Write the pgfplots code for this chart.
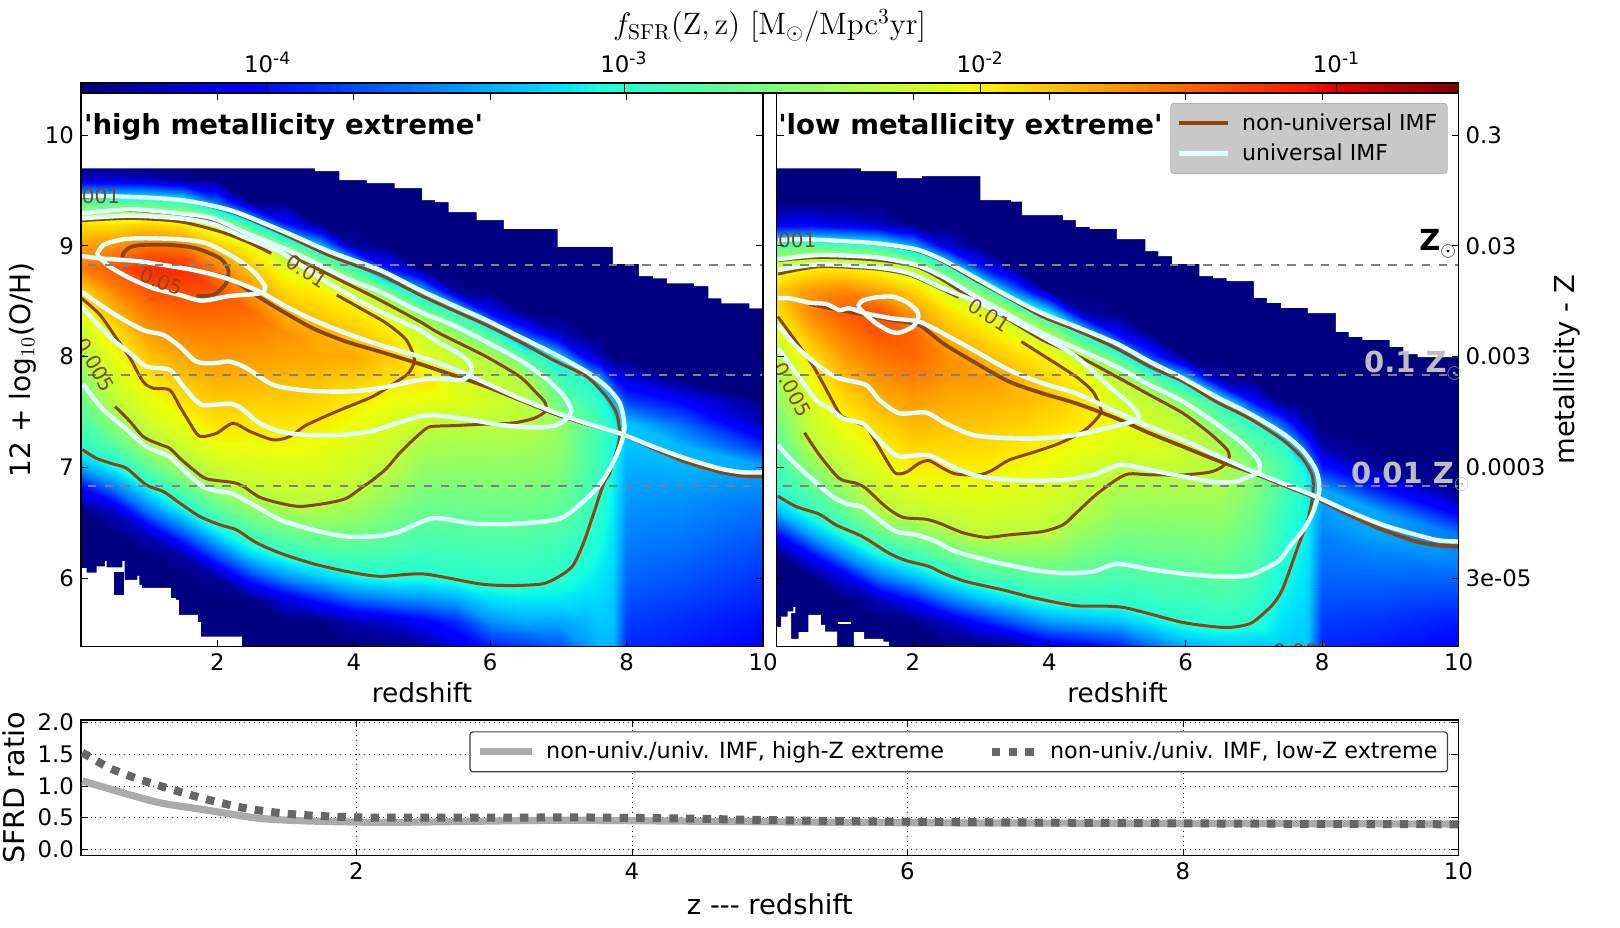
\documentclass[border=0pt]{standalone}
\usepackage[no-math]{fontspec}
\setmainfont{DejaVu Sans}[Ligatures=TeXOff]
\usepackage{pgfplots}
\pgfplotsset{compat=1.18}
\definecolor{cbrown}{HTML}{8B4513}
\definecolor{cwhite}{HTML}{E0FFFF}
\definecolor{cnavy}{HTML}{00007F}
\definecolor{lgray}{HTML}{C8C8C8}
\definecolor{zgray}{HTML}{BEBEBE}
\newcommand{\fs}[1]{\fontsize{#1}{#1}\selectfont}
\newcommand{\dec}[1]{10\textsuperscript{\fs{8.6}#1}}
\tikzset{clab/.style={cbrown,font=\fs{10},inner sep=0pt}}
\pgfplotsset{
  colormap={mpljet}{rgb255(0pt)=(0,0,127) rgb255(110pt)=(0,0,255) rgb255(125pt)=(0,0,255) rgb255(340pt)=(0,219,255) rgb255(350pt)=(0,229,247) rgb255(375pt)=(21,255,226) rgb255(640pt)=(238,255,8) rgb255(650pt)=(243,245,0) rgb255(660pt)=(255,236,0) rgb255(890pt)=(255,19,0) rgb255(910pt)=(232,0,0) rgb255(1000pt)=(127,0,0)},
  panel/.style={scale only axis,width=341pt,height=276.85pt,xmin=0,xmax=10,ymin=5.38,ymax=10.38,
    axis on top,tick align=inside,major tick length=3.5pt,axis line style={line width=.7pt},tick style={black,line width=.4pt},
    xtick={2,4,6,8,10},xticklabels={2,4,6,8,10},ytick={6,7,8,9,10},
    tick label style={font=\fs{11.4}},label style={font=\fs{13.2}},
    colormap name=mpljet,point meta min=-4.524,point meta max=-0.658,
    xlabel=redshift,x label style={at={(axis description cs:0.5,-0.083)},anchor=center}},
  heat/.style={surf,shader=interp,mesh/rows=23,mesh/cols=21,mesh/ordering=y varies,point meta=explicit,forget plot},
  mask/.style={fill=white,draw=none,forget plot},
  br/.style={cbrown,line width=1.5pt,smooth,tension=.45,forget plot},
  brt/.style={cbrown,line width=1.9pt,smooth,tension=.45,forget plot},
  wh/.style={cwhite,line width=2.2pt,smooth,tension=.45,forget plot},
  dsh/.style={gray,line width=1pt,dash pattern=on 4.2pt off 4.2pt,forget plot},
  legA/.style={legend image code/.code={\draw[##1] (0pt,0pt) -- (24.5pt,0pt);\path (28.5pt,0pt);}},
  legB/.style={legend image code/.code={\draw[##1] (0pt,0pt) -- (26pt,0pt);\path (29.5pt,0pt);}},
  legC/.style={legend image code/.code={\draw[##1] (0pt,0pt) -- (21.5pt,0pt);\path (25pt,0pt);}},
}
\begin{document}
\begin{tikzpicture}
\useasboundingbox (0,0) rectangle (810pt,463.5pt);
% left panel
\begin{axis}[panel,at={(40.5pt,140.15pt)},anchor=south west,
  yticklabels={6,7,8,9,10},
  ylabel={12 + log$_{10}$(O/H)},y label style={at={(axis description cs:-0.086,0.5)},anchor=center,font=\fs{14}},
  colorbar horizontal,
  colorbar style={at={(0,1)},anchor=south west,scale only axis,width=688.7pt,height=5pt,
    xtick={-4,-3,-2,-1},xticklabels={\dec{-4},\dec{-3},\dec{-2},\dec{-1}},
    xticklabel pos=upper,xlabel near ticks,xlabel={\scalebox{1.075}{\Large$f_{\mathrm{SFR}}(\mathrm{Z,z})\ [\mathrm{M_{\odot}/Mpc^{3}yr}]$}},
    tick align=inside,xtick style={black,line width=.4pt},major tick length=5pt,
    axis line style={line width=.7pt},
    tick label style={font=\fs{11.4}},xticklabel style={yshift=1.5pt},
    x label style={at={(axis description cs:0.5,6.7)},anchor=center}},
  ]
\addplot[heat] table[meta=c]{
x y c
0 5.38 -4.52
0 5.6 -4.52
0 5.8 -4.52
0 6 -4.52
0 6.2 -4.52
0 6.4 -4.52
0 6.6 -4.52
0 6.8 -4.08
0 7 -3.4
0 7.2 -2.97
0 7.4 -2.82
0 7.6 -2.67
0 7.8 -2.52
0 8 -2.37
0 8.2 -2.23
0 8.4 -2.09
0 8.6 -1.88
0 8.8 -1.53
0 9 -1.67
0 9.2 -1.93
0 9.4 -2.8
0 9.6 -4.27
0 9.72 -4.52
.5 5.38 -4.52
.5 5.6 -4.52
.5 5.8 -4.52
.5 6 -4.52
.5 6.2 -4.52
.5 6.4 -4.52
.5 6.6 -4.3
.5 6.8 -3.6
.5 7 -3.07
.5 7.2 -2.77
.5 7.4 -2.5
.5 7.6 -2.27
.5 7.8 -2.17
.5 8 -2.07
.5 8.2 -1.95
.5 8.4 -1.75
.5 8.6 -1.55
.5 8.8 -1.35
.5 9 -1.59
.5 9.2 -1.93
.5 9.4 -2.8
.5 9.6 -4.27
.5 9.72 -4.52
1 5.38 -4.52
1 5.6 -4.52
1 5.8 -4.52
1 6 -4.52
1 6.2 -4.52
1 6.4 -4.3
1 6.6 -3.6
1 6.8 -3.1
1 7 -2.72
1 7.2 -2.38
1 7.4 -2.19
1 7.6 -2.09
1 7.8 -1.96
1 8 -1.8
1 8.2 -1.64
1 8.4 -1.49
1 8.6 -1.33
1 8.8 -1.17
1 9 -1.46
1 9.2 -1.89
1 9.4 -2.81
1 9.6 -4.33
1 9.72 -4.52
1.5 5.38 -4.52
1.5 5.6 -4.52
1.5 5.8 -4.52
1.5 6 -4.52
1.5 6.2 -4.4
1.5 6.4 -3.72
1.5 6.6 -3.15
1.5 6.8 -2.75
1.5 7 -2.39
1.5 7.2 -2.2
1.5 7.4 -2.07
1.5 7.6 -1.94
1.5 7.8 -1.81
1.5 8 -1.69
1.5 8.2 -1.56
1.5 8.4 -1.43
1.5 8.6 -1.31
1.5 8.8 -1.18
1.5 9 -1.5
1.5 9.2 -1.98
1.5 9.4 -2.95
1.5 9.6 -4.46
1.5 9.72 -4.52
2 5.38 -4.52
2 5.6 -4.52
2 5.8 -4.52
2 6 -4.43
2 6.2 -3.76
2 6.4 -3.18
2 6.6 -2.78
2 6.8 -2.45
2 7 -2.21
2 7.2 -2.06
2 7.4 -1.93
2 7.6 -1.83
2 7.8 -1.73
2 8 -1.63
2 8.2 -1.53
2 8.4 -1.43
2 8.6 -1.33
2 8.8 -1.52
2 9 -1.81
2 9.2 -2.24
2 9.4 -3.63
2 9.6 -4.52
2 9.72 -4.52
2.5 5.38 -4.52
2.5 5.6 -4.52
2.5 5.8 -4.52
2.5 6 -3.87
2.5 6.2 -3.25
2.5 6.4 -2.85
2.5 6.6 -2.55
2.5 6.8 -2.28
2.5 7 -2.17
2.5 7.2 -2.06
2.5 7.4 -1.95
2.5 7.6 -1.85
2.5 7.8 -1.75
2.5 8 -1.65
2.5 8.2 -1.55
2.5 8.4 -1.45
2.5 8.6 -1.64
2.5 8.8 -1.82
2.5 9 -2.05
2.5 9.2 -3
2.5 9.4 -4.52
2.5 9.6 -4.52
2.5 9.72 -4.52
3 5.38 -4.52
3 5.6 -4.52
3 5.8 -4.2
3 6 -3.5
3 6.2 -3
3 6.4 -2.7
3 6.6 -2.4
3 6.8 -2.23
3 7 -2.13
3 7.2 -2.03
3 7.4 -1.94
3 7.6 -1.85
3 7.8 -1.77
3 8 -1.68
3 8.2 -1.6
3 8.4 -1.75
3 8.6 -1.91
3 8.8 -2.11
3 9 -2.6
3 9.2 -3.96
3 9.4 -4.52
3 9.6 -4.52
3 9.72 -4.52
3.5 5.38 -4.52
3.5 5.6 -4.52
3.5 5.8 -3.94
3.5 6 -3.3
3.5 6.2 -2.9
3.5 6.4 -2.64
3.5 6.6 -2.39
3.5 6.8 -2.24
3.5 7 -2.15
3.5 7.2 -2.07
3.5 7.4 -1.98
3.5 7.6 -1.88
3.5 7.8 -1.79
3.5 8 -1.7
3.5 8.2 -1.72
3.5 8.4 -1.86
3.5 8.6 -2
3.5 8.8 -2.34
3.5 9 -3.27
3.5 9.2 -4.52
3.5 9.4 -4.52
3.5 9.6 -4.52
3.5 9.72 -4.52
4 5.38 -4.52
4 5.6 -4.36
4 5.8 -3.68
4 6 -3.12
4 6.2 -2.85
4 6.4 -2.65
4 6.6 -2.45
4 6.8 -2.28
4 7 -2.21
4 7.2 -2.13
4 7.4 -2.06
4 7.6 -1.98
4 7.8 -1.84
4 8 -1.7
4 8.2 -1.83
4 8.4 -1.96
4 8.6 -2.22
4 8.8 -2.92
4 9 -4.4
4 9.2 -4.52
4 9.4 -4.52
4 9.6 -4.52
4 9.72 -4.52
4.5 5.38 -4.52
4.5 5.6 -4.27
4.5 5.8 -3.57
4.5 6 -3.05
4.5 6.2 -2.87
4.5 6.4 -2.72
4.5 6.6 -2.58
4.5 6.8 -2.43
4.5 7 -2.29
4.5 7.2 -2.21
4.5 7.4 -2.14
4.5 7.6 -2.06
4.5 7.8 -1.93
4.5 8 -1.84
4.5 8.2 -1.95
4.5 8.4 -2.16
4.5 8.6 -2.68
4.5 8.8 -3.96
4.5 9 -4.52
4.5 9.2 -4.52
4.5 9.4 -4.52
4.5 9.6 -4.52
4.5 9.72 -4.52
5 5.38 -4.45
5 5.6 -4.1
5 5.8 -3.5
5 6 -3.05
5 6.2 -2.91
5 6.4 -2.8
5 6.6 -2.69
5 6.8 -2.58
5 7 -2.47
5 7.2 -2.36
5 7.4 -2.23
5 7.6 -2.09
5 7.8 -1.95
5 8 -2.09
5 8.2 -2.22
5 8.4 -2.55
5 8.6 -3.36
5 8.8 -4.52
5 9 -4.52
5 9.2 -4.52
5 9.4 -4.52
5 9.6 -4.52
5 9.72 -4.52
5.5 5.38 -4.2
5.5 5.6 -3.9
5.5 5.8 -3.4
5.5 6 -2.99
5.5 6.2 -2.89
5.5 6.4 -2.79
5.5 6.6 -2.69
5.5 6.8 -2.59
5.5 7 -2.49
5.5 7.2 -2.39
5.5 7.4 -2.28
5.5 7.6 -2.11
5.5 7.8 -2.14
5.5 8 -2.24
5.5 8.2 -2.47
5.5 8.4 -2.98
5.5 8.6 -4.46
5.5 8.8 -4.52
5.5 9 -4.52
5.5 9.2 -4.52
5.5 9.4 -4.52
5.5 9.6 -4.52
5.5 9.72 -4.52
6 5.38 -3.95
6 5.6 -3.5
6 5.8 -3.2
6 6 -2.97
6 6.2 -2.87
6 6.4 -2.78
6 6.6 -2.68
6 6.8 -2.58
6 7 -2.49
6 7.2 -2.39
6 7.4 -2.29
6 7.6 -2.19
6 7.8 -2.25
6 8 -2.35
6 8.2 -2.83
6 8.4 -4.09
6 8.6 -4.52
6 8.8 -4.52
6 9 -4.52
6 9.2 -4.52
6 9.4 -4.52
6 9.6 -4.52
6 9.72 -4.52
6.5 5.38 -3.85
6.5 5.6 -3.4
6.5 5.8 -3.15
6.5 6 -2.97
6.5 6.2 -2.87
6.5 6.4 -2.78
6.5 6.6 -2.68
6.5 6.8 -2.59
6.5 7 -2.49
6.5 7.2 -2.4
6.5 7.4 -2.3
6.5 7.6 -2.27
6.5 7.8 -2.34
6.5 8 -2.75
6.5 8.2 -3.72
6.5 8.4 -4.52
6.5 8.6 -4.52
6.5 8.8 -4.52
6.5 9 -4.52
6.5 9.2 -4.52
6.5 9.4 -4.52
6.5 9.6 -4.52
6.5 9.72 -4.52
7 5.38 -3.75
7 5.6 -3.41
7 5.8 -3.17
7 6 -3
7 6.2 -2.91
7 6.4 -2.82
7 6.6 -2.73
7 6.8 -2.64
7 7 -2.56
7 7.2 -2.47
7 7.4 -2.45
7 7.6 -2.65
7 7.8 -2.85
7 8 -3.2
7 8.2 -4.3
7 8.4 -4.52
7 8.6 -4.52
7 8.8 -4.52
7 9 -4.52
7 9.2 -4.52
7 9.4 -4.52
7 9.6 -4.52
7 9.72 -4.52
7.4 5.38 -3.48
7.4 5.6 -3.34
7.4 5.8 -3.22
7.4 6 -3.1
7.4 6.2 -3.02
7.4 6.4 -2.94
7.4 6.6 -2.88
7.4 6.8 -2.84
7.4 7 -2.8
7.4 7.2 -2.78
7.4 7.4 -2.75
7.4 7.6 -2.88
7.4 7.8 -3
7.4 8 -4.1
7.4 8.2 -4.52
7.4 8.4 -4.52
7.4 8.6 -4.52
7.4 8.8 -4.52
7.4 9 -4.52
7.4 9.2 -4.52
7.4 9.4 -4.52
7.4 9.6 -4.52
7.4 9.72 -4.52
7.6 5.38 -3.35
7.6 5.6 -3.28
7.6 5.8 -3.22
7.6 6 -3.16
7.6 6.2 -3.1
7.6 6.4 -3.04
7.6 6.6 -2.99
7.6 6.8 -2.94
7.6 7 -2.9
7.6 7.2 -2.88
7.6 7.4 -2.87
7.6 7.6 -2.95
7.6 7.8 -3.35
7.6 8 -4.3
7.6 8.2 -4.52
7.6 8.4 -4.52
7.6 8.6 -4.52
7.6 8.8 -4.52
7.6 9 -4.52
7.6 9.2 -4.52
7.6 9.4 -4.52
7.6 9.6 -4.52
7.6 9.72 -4.52
7.8 5.38 -3.35
7.8 5.6 -3.3
7.8 5.8 -3.27
7.8 6 -3.24
7.8 6.2 -3.21
7.8 6.4 -3.18
7.8 6.6 -3.15
7.8 6.8 -3.12
7.8 7 -3.08
7.8 7.2 -3.05
7.8 7.4 -3.06
7.8 7.6 -3.3
7.8 7.8 -3.95
7.8 8 -4.52
7.8 8.2 -4.52
7.8 8.4 -4.52
7.8 8.6 -4.52
7.8 8.8 -4.52
7.8 9 -4.52
7.8 9.2 -4.52
7.8 9.4 -4.52
7.8 9.6 -4.52
7.8 9.72 -4.52
8 5.38 -3.9
8 5.6 -3.82
8 5.8 -3.74
8 6 -3.66
8 6.2 -3.6
8 6.4 -3.54
8 6.6 -3.49
8 6.8 -3.44
8 7 -3.38
8 7.2 -3.3
8 7.4 -3.3
8 7.6 -3.8
8 7.8 -4.2
8 8 -4.52
8 8.2 -4.52
8 8.4 -4.52
8 8.6 -4.52
8 8.8 -4.52
8 9 -4.52
8 9.2 -4.52
8 9.4 -4.52
8 9.6 -4.52
8 9.72 -4.52
8.8 5.38 -3.95
8.8 5.6 -3.88
8.8 5.8 -3.8
8.8 6 -3.72
8.8 6.2 -3.65
8.8 6.4 -3.58
8.8 6.6 -3.52
8.8 6.8 -3.45
8.8 7 -3.35
8.8 7.2 -3.35
8.8 7.4 -3.65
8.8 7.6 -4.05
8.8 7.8 -4.52
8.8 8 -4.52
8.8 8.2 -4.52
8.8 8.4 -4.52
8.8 8.6 -4.52
8.8 8.8 -4.52
8.8 9 -4.52
8.8 9.2 -4.52
8.8 9.4 -4.52
8.8 9.6 -4.52
8.8 9.72 -4.52
10 5.38 -4.05
10 5.6 -4
10 5.8 -3.92
10 6 -3.85
10 6.2 -3.78
10 6.4 -3.7
10 6.6 -3.62
10 6.8 -3.52
10 7 -3.4
10 7.2 -3.9
10 7.4 -4.35
10 7.6 -4.52
10 7.8 -4.52
10 8 -4.52
10 8.2 -4.52
10 8.4 -4.52
10 8.6 -4.52
10 8.8 -4.52
10 9 -4.52
10 9.2 -4.52
10 9.4 -4.52
10 9.6 -4.52
10 9.72 -4.52
};
% stepped edge of the populated region
\addplot[mask] coordinates {(0,10.38)(0,9.7)(3.43,9.7)(3.43,9.675)(3.79,9.675)(3.79,9.594)(4.19,9.594)(4.19,9.567)(4.6,9.567)(4.6,9.52)(5,9.52)(5,9.413)(5.19,9.413)(5.19,9.395)(5.39,9.395)(5.39,9.305)(5.8,9.305)(5.8,9.233)(6.2,9.233)(6.2,9.152)(6.99,9.152)(6.99,8.99)(7.8,8.99)(7.8,8.836)(8.18,8.836)(8.18,8.727)(8.39,8.727)(8.39,8.706)(8.59,8.706)(8.59,8.66)(8.99,8.66)(8.99,8.637)(9.2,8.637)(9.2,8.526)(9.39,8.526)(9.39,8.48)(9.8,8.48)(9.8,8.436)(10,8.436)(10,10.38)} --cycle;
\addplot[mask] coordinates {(0,5.38)(0,6.09)(.083,6.09)(.083,6.05)(.23,6.05)(.23,6.105)(.352,6.105)(.352,6.156)(.376,6.156)(.376,6.096)(.606,6.096)(.606,6.156)(.64,6.156)(.64,5.984)(.825,5.984)(.825,6.02)(.855,6.02)(.855,5.939)(.894,5.939)(.894,5.912)(1.319,5.912)(1.319,5.819)(1.392,5.819)(1.392,5.804)(1.436,5.804)(1.436,5.668)(1.714,5.668)(1.714,5.602)(1.758,5.602)(1.758,5.47)(2.359,5.47)(2.359,5.38)} --cycle;
\addplot[fill=cnavy,draw=none,forget plot] coordinates {(.488,6.059)(.63,6.059)(.63,5.849)(.488,5.849)} --cycle;
% non-universal IMF contours
\addplot[br] coordinates {(0,9.44)(.62,9.44)(1.45,9.41)(2.18,9.31)(2.92,9.12)(3.65,8.91)(4.38,8.74)(4.97,8.556)(5.45,8.42)(5.94,8.285)(6.43,8.135)(6.92,7.97)(7.41,7.82)(7.7,7.64)(7.85,7.49)(7.9,7.31)(7.87,7.187)(7.75,6.946)(7.67,6.865)(7.52,6.59)(7.37,6.32)(7.21,6.11)(6.99,6.007)(6.76,5.947)(6.31,5.932)(5.85,5.947)(5.02,6.037)(4.38,6.015)(3.89,6.06)(3.4,6.13)(2.92,6.225)(2.57,6.32)(2.28,6.435)(2.04,6.48)(1.74,6.556)(1.45,6.676)(1.21,6.78)(.96,6.84)(.67,6.99)(.47,7.03)(.23,7.08)(.02,7.16)};
\addplot[br] coordinates {(.01,9.3)(.72,9.32)(1.45,9.284)(1.94,9.227)(2.43,9.077)(2.92,8.947)(3.4,8.812)(3.89,8.662)(4.38,8.511)(4.97,8.315)(5.21,8.225)(5.45,8.15)(5.94,8)(6.43,7.82)(6.68,7.67)(6.81,7.58)(6.8,7.5)(6.63,7.44)(6.33,7.4)(5.94,7.39)(5.45,7.376)(5.16,7.37)(5.06,7.35)(4.87,7.248)(4.67,7.127)(4.48,6.99)(4.28,6.887)(4.14,6.827)(3.89,6.72)(3.6,6.676)(3.21,6.646)(2.92,6.676)(2.62,6.73)(2.38,6.827)(2.23,6.863)(1.84,6.896)(1.65,6.977)(1.45,7.082)(1.3,7.172)(1.11,7.218)(.91,7.278)(.72,7.413)(.5,7.549)};
\addplot[br] coordinates {(.01,9.227)(.72,9.248)(1.45,9.218)(2.04,9.128)(2.43,9.038)(2.79,8.932)};
\addplot[br] coordinates {(3.75,8.556)(4.14,8.421)(4.48,8.3)(4.77,8.15)(4.89,7.97)(4.8,7.85)(4.63,7.774)(4.28,7.64)(3.8,7.518)(3.31,7.383)(3.06,7.278)(2.82,7.248)(2.48,7.323)(2.23,7.398)(1.99,7.308)(1.79,7.278)(1.69,7.308)(1.45,7.549)(1.3,7.699)(1.06,7.714)(.91,7.774)(.72,7.985)(.52,8.165)(.28,8.376)(.01,8.526)};
\addplot[brt] coordinates {(1.69,8.547)(1.94,8.556)(2.13,8.662)(2.16,8.782)(2.04,8.887)(1.69,8.977)(1.3,9.008)(.91,9.008)(.72,8.987)(.62,8.932)(.61,8.887)};
\addplot[brt] coordinates {(.28,8.88)(.82,8.87)(1.45,8.8)(2.13,8.716)(2.52,8.571)(2.92,8.421)(3.4,8.255)(3.89,8.135)(4.38,8.045)(4.97,7.933)(5.45,7.834)(5.94,7.73)(6.43,7.61)(6.92,7.49)(7.41,7.39)(7.9,7.307)(8.39,7.172)(8.87,7.05)(9.36,6.96)(9.7,6.925)(10,6.916)};
% universal IMF contours
\addplot[wh] coordinates {(0,9.45)(.62,9.444)(1.45,9.414)(2.18,9.323)(2.92,9.143)(3.65,8.947)(4.38,8.782)(4.97,8.6)(5.45,8.465)(5.94,8.33)(6.43,8.18)(6.92,8.03)(7.41,7.864)(7.7,7.73)(7.9,7.58)(7.97,7.37)(7.92,7.217)(7.8,7.04)(7.59,6.83)(7.29,6.65)(6.99,6.53)(6.38,6.49)(5.78,6.49)(5.17,6.54)(4.67,6.42)(4.38,6.38)(3.89,6.375)(3.4,6.435)(2.92,6.526)(2.57,6.646)(2.23,6.76)(2.04,6.78)(1.79,6.827)(1.5,6.977)(1.3,7.097)(.96,7.187)(.62,7.368)(.33,7.518)(.13,7.669)(.03,7.75)};
\addplot[wh] coordinates {(.01,9.293)(.72,9.33)(1.45,9.293)(1.94,9.248)(2.43,9.113)(2.92,8.993)(3.4,8.857)(3.89,8.707)(4.38,8.586)(4.97,8.405)(5.45,8.285)(5.94,8.134)(6.43,7.97)(6.82,7.8)(7.07,7.65)(7.19,7.518)(7.12,7.44)(6.97,7.38)(6.68,7.36)(6.19,7.38)(5.7,7.43)(5.21,7.47)(4.97,7.46)(4.63,7.398)(4.23,7.323)(3.8,7.293)(3.31,7.293)(2.92,7.323)(2.62,7.398)(2.38,7.518)(2.21,7.573)(1.94,7.564)(1.77,7.564)(1.65,7.624)(1.5,7.73)(1.3,7.88)(.96,7.91)(.72,8.03)(.47,8.15)(.23,8.3)(.01,8.451)};
\addplot[wh] coordinates {(.01,9.248)(.72,9.272)(1.45,9.248)(1.94,9.197)(2.43,9.068)(2.92,8.947)(3.4,8.752)(3.89,8.571)(4.38,8.406)(4.97,8.24)(5.11,8.18)(5.36,8.09)(5.6,8)(5.72,7.92)(5.72,7.864)(5.6,7.79)(5.26,7.8)(4.97,7.79)(4.38,7.714)(3.89,7.684)(3.31,7.693)(2.82,7.744)(2.43,7.895)(2.18,7.955)(1.94,7.94)(1.69,7.955)(1.45,8.09)(1.21,8.195)(.91,8.24)(.47,8.39)(.01,8.586)};
\addplot[wh] coordinates {(.23,8.917)(.33,9.008)(.62,9.059)(.96,9.068)(1.45,9.059)(1.84,9.023)(2.23,8.902)(2.53,8.767)(2.7,8.631)(2.62,8.571)(2.18,8.547)(1.77,8.505)(1.45,8.556)(1.06,8.617)(.72,8.707)(.42,8.812)(.23,8.917)};
\addplot[wh] coordinates {(.01,8.908)(.28,8.887)(.82,8.863)(1.21,8.827)(1.69,8.776)(2.13,8.707)(2.62,8.586)(3.01,8.451)(3.4,8.331)(3.89,8.21)(4.38,8.105)(4.97,7.999)(5.45,7.894)(5.94,7.76)(6.43,7.623)(6.92,7.503)(7.41,7.397)(7.9,7.307)(8.39,7.187)(8.87,7.08)(9.36,6.99)(9.7,6.955)(10,6.955)};
\addplot[dsh] coordinates {(.1,8.83)(10,8.83)};
\addplot[dsh] coordinates {(.1,7.83)(10,7.83)};
\addplot[dsh] coordinates {(.1,6.83)(10,6.83)};
\node[clab,anchor=east] at (axis cs:.58,9.45) {0.001};
\node[clab,rotate=-20] at (axis cs:1.18,8.677) {0.05};
\node[clab,rotate=-33] at (axis cs:3.31,8.767) {0.01};
\node[clab,rotate=-60] at (axis cs:.21,7.925) {0.005};
\node[anchor=west,inner sep=0pt,font=\bfseries\fs{13.8}] at (axis cs:.04,10.07) {'high metallicity extreme'};
\end{axis}
% right panel
\begin{axis}[panel,at={(388.25pt,140.15pt)},anchor=south west,
  ytick pos=both,yticklabel pos=right,yticklabels={3e-05,0.0003,0.003,0.03,0.3},
  ylabel={metallicity - Z},y label style={at={(axis description cs:1.159,0.5)},anchor=center,font=\fs{13.7}},
  legend style={at={(0.984,0.982)},anchor=north east,fill=lgray,draw=lgray!90!black,rounded corners=1.5pt,
    font=\fs{11},row sep=1.3pt,inner xsep=3pt,inner ysep=3pt},
  legend cell align=left,
  ]
\addlegendimage{cbrown,line width=2pt,legA}
\addlegendentry{non-universal IMF}
\addlegendimage{cwhite,line width=2.2pt,legA}
\addlegendentry{universal IMF}
\addplot[heat] table[meta=c]{
x y c
0 5.38 -4.52
0 5.6 -4.52
0 5.8 -4.52
0 6 -4.52
0 6.2 -4.52
0 6.4 -4.02
0 6.6 -3.35
0 6.8 -2.97
0 7 -2.86
0 7.2 -2.75
0 7.4 -2.63
0 7.6 -2.52
0 7.8 -2.41
0 8 -2.3
0 8.2 -2.13
0 8.4 -1.93
0 8.6 -1.85
0 8.8 -2.12
0 9 -2.8
0 9.2 -4.16
0 9.4 -4.52
0 9.6 -4.52
0 9.72 -4.52
.5 5.38 -4.52
.5 5.6 -4.52
.5 5.8 -4.52
.5 6 -4.52
.5 6.2 -4.08
.5 6.4 -3.4
.5 6.6 -2.96
.5 6.8 -2.74
.5 7 -2.52
.5 7.2 -2.3
.5 7.4 -2.22
.5 7.6 -2.14
.5 7.8 -2.05
.5 8 -1.93
.5 8.2 -1.74
.5 8.4 -1.55
.5 8.6 -1.63
.5 8.8 -2
.5 9 -2.72
.5 9.2 -4.11
.5 9.4 -4.52
.5 9.6 -4.52
.5 9.72 -4.52
1 5.38 -4.52
1 5.6 -4.52
1 5.8 -4.52
1 6 -4.2
1 6.2 -3.5
1 6.4 -3
1 6.6 -2.72
1 6.8 -2.44
1 7 -2.25
1 7.2 -2.14
1 7.4 -2.03
1 7.6 -1.9
1 7.8 -1.77
1 8 -1.64
1 8.2 -1.5
1 8.4 -1.37
1 8.6 -1.57
1 8.8 -1.98
1 9 -2.81
1 9.2 -4.2
1 9.4 -4.52
1 9.6 -4.52
1 9.72 -4.52
1.5 5.38 -4.52
1.5 5.6 -4.52
1.5 5.8 -4.33
1.5 6 -3.62
1.5 6.2 -3.1
1.5 6.4 -2.71
1.5 6.6 -2.34
1.5 6.8 -2.21
1.5 7 -2.1
1.5 7.2 -2
1.5 7.4 -1.87
1.5 7.6 -1.74
1.5 7.8 -1.61
1.5 8 -1.48
1.5 8.2 -1.35
1.5 8.4 -1.34
1.5 8.6 -1.69
1.5 8.8 -2.07
1.5 9 -2.91
1.5 9.2 -4.31
1.5 9.4 -4.52
1.5 9.6 -4.52
1.5 9.72 -4.52
2 5.38 -4.52
2 5.6 -4.52
2 5.8 -4.01
2 6 -3.35
2 6.2 -2.9
2 6.4 -2.56
2 6.6 -2.26
2 6.8 -2.12
2 7 -1.98
2 7.2 -1.87
2 7.4 -1.76
2 7.6 -1.65
2 7.8 -1.54
2 8 -1.43
2 8.2 -1.41
2 8.4 -1.64
2 8.6 -1.87
2 8.8 -2.27
2 9 -3.36
2 9.2 -4.52
2 9.4 -4.52
2 9.6 -4.52
2 9.72 -4.52
2.5 5.38 -4.52
2.5 5.6 -4.3
2.5 5.8 -3.6
2.5 6 -3.07
2.5 6.2 -2.73
2.5 6.4 -2.41
2.5 6.6 -2.22
2.5 6.8 -2.09
2.5 7 -1.98
2.5 7.2 -1.89
2.5 7.4 -1.8
2.5 7.6 -1.71
2.5 7.8 -1.62
2.5 8 -1.59
2.5 8.2 -1.75
2.5 8.4 -1.92
2.5 8.6 -2.19
2.5 8.8 -2.84
2.5 9 -4.21
2.5 9.2 -4.52
2.5 9.4 -4.52
2.5 9.6 -4.52
2.5 9.72 -4.52
3 5.38 -4.52
3 5.6 -3.98
3 5.8 -3.33
3 6 -2.89
3 6.2 -2.57
3 6.4 -2.28
3 6.6 -2.18
3 6.8 -2.08
3 7 -1.98
3 7.2 -1.89
3 7.4 -1.81
3 7.6 -1.73
3 7.8 -1.64
3 8 -1.74
3 8.2 -1.9
3 8.4 -2.13
3 8.6 -2.63
3 8.8 -3.9
3 9 -4.52
3 9.2 -4.52
3 9.4 -4.52
3 9.6 -4.52
3 9.72 -4.52
3.5 5.38 -4.5
3.5 5.6 -3.7
3.5 5.8 -3.15
3.5 6 -2.82
3.5 6.2 -2.55
3.5 6.4 -2.3
3.5 6.6 -2.2
3.5 6.8 -2.11
3.5 7 -2.02
3.5 7.2 -1.94
3.5 7.4 -1.85
3.5 7.6 -1.76
3.5 7.8 -1.74
3.5 8 -1.89
3.5 8.2 -2.08
3.5 8.4 -2.5
3.5 8.6 -3.63
3.5 8.8 -4.52
3.5 9 -4.52
3.5 9.2 -4.52
3.5 9.4 -4.52
3.5 9.6 -4.52
3.5 9.72 -4.52
4 5.38 -4.2
4 5.6 -3.45
4 5.8 -2.98
4 6 -2.76
4 6.2 -2.54
4 6.4 -2.32
4 6.6 -2.23
4 6.8 -2.15
4 7 -2.08
4 7.2 -2
4 7.4 -1.91
4 7.6 -1.82
4 7.8 -1.89
4 8 -2
4 8.2 -2.34
4 8.4 -3.18
4 8.6 -4.52
4 8.8 -4.52
4 9 -4.52
4 9.2 -4.52
4 9.4 -4.52
4 9.6 -4.52
4 9.72 -4.52
4.5 5.38 -4.1
4.5 5.6 -3.38
4.5 5.8 -2.96
4.5 6 -2.8
4.5 6.2 -2.64
4.5 6.4 -2.48
4.5 6.6 -2.32
4.5 6.8 -2.23
4.5 7 -2.15
4.5 7.2 -2.06
4.5 7.4 -1.97
4.5 7.6 -1.94
4.5 7.8 -2.03
4.5 8 -2.29
4.5 8.2 -3
4.5 8.4 -4.41
4.5 8.6 -4.52
4.5 8.8 -4.52
4.5 9 -4.52
4.5 9.2 -4.52
4.5 9.4 -4.52
4.5 9.6 -4.52
4.5 9.72 -4.52
5 5.38 -3.95
5 5.6 -3.32
5 5.8 -2.96
5 6 -2.84
5 6.2 -2.72
5 6.4 -2.6
5 6.6 -2.48
5 6.8 -2.36
5 7 -2.24
5 7.2 -2.13
5 7.4 -2.08
5 7.6 -2.18
5 7.8 -2.29
5 8 -2.8
5 8.2 -4.06
5 8.4 -4.52
5 8.6 -4.52
5 8.8 -4.52
5 9 -4.52
5 9.2 -4.52
5 9.4 -4.52
5 9.6 -4.52
5 9.72 -4.52
5.5 5.38 -3.65
5.5 5.6 -3.14
5.5 5.8 -2.92
5.5 6 -2.81
5.5 6.2 -2.7
5.5 6.4 -2.59
5.5 6.6 -2.48
5.5 6.8 -2.37
5.5 7 -2.26
5.5 7.2 -2.13
5.5 7.4 -2.21
5.5 7.6 -2.28
5.5 7.8 -2.7
5.5 8 -3.8
5.5 8.2 -4.52
5.5 8.4 -4.52
5.5 8.6 -4.52
5.5 8.8 -4.52
5.5 9 -4.52
5.5 9.2 -4.52
5.5 9.4 -4.52
5.5 9.6 -4.52
5.5 9.72 -4.52
6 5.38 -3.4
6 5.6 -3
6 5.8 -2.89
6 6 -2.79
6 6.2 -2.68
6 6.4 -2.58
6 6.6 -2.47
6 6.8 -2.37
6 7 -2.26
6 7.2 -2.23
6 7.4 -2.28
6 7.6 -2.57
6 7.8 -3.27
6 8 -4.52
6 8.2 -4.52
6 8.4 -4.52
6 8.6 -4.52
6 8.8 -4.52
6 9 -4.52
6 9.2 -4.52
6 9.4 -4.52
6 9.6 -4.52
6 9.72 -4.52
6.5 5.38 -3.3
6.5 5.6 -2.97
6.5 5.8 -2.85
6.5 6 -2.75
6.5 6.2 -2.65
6.5 6.4 -2.56
6.5 6.6 -2.47
6.5 6.8 -2.38
6.5 7 -2.33
6.5 7.2 -2.38
6.5 7.4 -2.67
6.5 7.6 -3
6.5 7.8 -4.4
6.5 8 -4.52
6.5 8.2 -4.52
6.5 8.4 -4.52
6.5 8.6 -4.52
6.5 8.8 -4.52
6.5 9 -4.52
6.5 9.2 -4.52
6.5 9.4 -4.52
6.5 9.6 -4.52
6.5 9.72 -4.52
7 5.38 -3.3
7 5.6 -3
7 5.8 -2.92
7 6 -2.85
7 6.2 -2.78
7 6.4 -2.71
7 6.6 -2.64
7 6.8 -2.57
7 7 -2.57
7 7.2 -2.75
7 7.4 -2.98
7 7.6 -4.05
7 7.8 -4.52
7 8 -4.52
7 8.2 -4.52
7 8.4 -4.52
7 8.6 -4.52
7 8.8 -4.52
7 9 -4.52
7 9.2 -4.52
7 9.4 -4.52
7 9.6 -4.52
7 9.72 -4.52
7.4 5.38 -3.28
7.4 5.6 -3.18
7.4 5.8 -3.12
7.4 6 -3.06
7.4 6.2 -3
7.4 6.4 -2.95
7.4 6.6 -2.9
7.4 6.8 -2.82
7.4 7 -2.8
7.4 7.2 -2.92
7.4 7.4 -3.7
7.4 7.6 -4.52
7.4 7.8 -4.52
7.4 8 -4.52
7.4 8.2 -4.52
7.4 8.4 -4.52
7.4 8.6 -4.52
7.4 8.8 -4.52
7.4 9 -4.52
7.4 9.2 -4.52
7.4 9.4 -4.52
7.4 9.6 -4.52
7.4 9.72 -4.52
7.6 5.38 -3.28
7.6 5.6 -3.22
7.6 5.8 -3.17
7.6 6 -3.13
7.6 6.2 -3.09
7.6 6.4 -3.05
7.6 6.6 -3
7.6 6.8 -2.96
7.6 7 -2.95
7.6 7.2 -3.35
7.6 7.4 -4.1
7.6 7.6 -4.52
7.6 7.8 -4.52
7.6 8 -4.52
7.6 8.2 -4.52
7.6 8.4 -4.52
7.6 8.6 -4.52
7.6 8.8 -4.52
7.6 9 -4.52
7.6 9.2 -4.52
7.6 9.4 -4.52
7.6 9.6 -4.52
7.6 9.72 -4.52
7.8 5.38 -3.3
7.8 5.6 -3.27
7.8 5.8 -3.24
7.8 6 -3.21
7.8 6.2 -3.18
7.8 6.4 -3.15
7.8 6.6 -3.12
7.8 6.8 -3.08
7.8 7 -3.2
7.8 7.2 -3.85
7.8 7.4 -4.4
7.8 7.6 -4.52
7.8 7.8 -4.52
7.8 8 -4.52
7.8 8.2 -4.52
7.8 8.4 -4.52
7.8 8.6 -4.52
7.8 8.8 -4.52
7.8 9 -4.52
7.8 9.2 -4.52
7.8 9.4 -4.52
7.8 9.6 -4.52
7.8 9.72 -4.52
8 5.38 -3.9
8 5.6 -3.82
8 5.8 -3.74
8 6 -3.66
8 6.2 -3.6
8 6.4 -3.54
8 6.6 -3.45
8 6.8 -3.4
8 7 -3.95
8 7.2 -4.4
8 7.4 -4.52
8 7.6 -4.52
8 7.8 -4.52
8 8 -4.52
8 8.2 -4.52
8 8.4 -4.52
8 8.6 -4.52
8 8.8 -4.52
8 9 -4.52
8 9.2 -4.52
8 9.4 -4.52
8 9.6 -4.52
8 9.72 -4.52
8.8 5.38 -3.95
8.8 5.6 -3.85
8.8 5.8 -3.75
8.8 6 -3.65
8.8 6.2 -3.55
8.8 6.4 -3.4
8.8 6.6 -3.4
8.8 6.8 -3.95
8.8 7 -4.45
8.8 7.2 -4.52
8.8 7.4 -4.52
8.8 7.6 -4.52
8.8 7.8 -4.52
8.8 8 -4.52
8.8 8.2 -4.52
8.8 8.4 -4.52
8.8 8.6 -4.52
8.8 8.8 -4.52
8.8 9 -4.52
8.8 9.2 -4.52
8.8 9.4 -4.52
8.8 9.6 -4.52
8.8 9.72 -4.52
10 5.38 -4.05
10 5.6 -3.95
10 5.8 -3.8
10 6 -3.65
10 6.2 -3.5
10 6.4 -3.6
10 6.6 -4.1
10 6.8 -4.5
10 7 -4.52
10 7.2 -4.52
10 7.4 -4.52
10 7.6 -4.52
10 7.8 -4.52
10 8 -4.52
10 8.2 -4.52
10 8.4 -4.52
10 8.6 -4.52
10 8.8 -4.52
10 9 -4.52
10 9.2 -4.52
10 9.4 -4.52
10 9.6 -4.52
10 9.72 -4.52
};
\addplot[mask] coordinates {(0,10.38)(0,9.7)(1.24,9.7)(1.24,9.675)(1.765,9.675)(1.765,9.612)(2.13,9.612)(2.13,9.63)(2.99,9.63)(2.99,9.413)(3.44,9.413)(3.44,9.398)(3.6,9.398)(3.6,9.278)(4.2,9.278)(4.2,9.233)(4.39,9.233)(4.39,9.17)(4.59,9.17)(4.59,9.152)(4.99,9.152)(4.99,9.061)(5.41,9.061)(5.41,8.953)(5.6,8.953)(5.6,8.908)(5.8,8.908)(5.8,8.836)(6.2,8.836)(6.2,8.727)(6.4,8.727)(6.4,8.709)(6.6,8.709)(6.6,8.682)(7,8.682)(7,8.529)(7.19,8.529)(7.19,8.484)(7.4,8.484)(7.4,8.439)(7.79,8.439)(7.79,8.393)(8.2,8.393)(8.2,8.222)(8.39,8.222)(8.39,8.177)(8.59,8.177)(8.59,8.15)(8.99,8.15)(8.99,8.087)(9.19,8.087)(9.19,8.023)(9.4,8.023)(9.4,7.996)(10,7.996)(10,10.38)} --cycle;
\addplot[mask] coordinates {(0,5.38)(0,5.56)(.066,5.56)(.066,5.652)(.164,5.652)(.164,5.698)(.247,5.698)(.247,5.737)(.276,5.737)(.276,5.683)(.213,5.683)(.213,5.451)(.325,5.451)(.325,5.511)(.467,5.511)(.467,5.668)(.652,5.668)(.652,5.577)(.711,5.577)(.711,5.517)(.887,5.517)(.887,5.38)(1.136,5.38)(1.136,5.511)(1.283,5.511)(1.283,5.451)(1.566,5.451)(1.566,5.427)(1.649,5.427)(1.649,5.38)} --cycle;
\addplot[mask] coordinates {(.906,5.607)(1.092,5.607)(1.092,5.589)(.906,5.589)} --cycle;
\addplot[br] coordinates {(.02,9.052)(.48,9.052)(1.46,9.016)(2.05,8.956)(2.44,8.857)(2.93,8.685)(3.41,8.526)(3.9,8.36)(4.39,8.24)(4.98,8.075)(5.47,7.91)(5.96,7.774)(6.44,7.594)(6.93,7.443)(7.42,7.248)(7.71,7.082)(7.86,6.917)(7.86,6.736)(7.79,6.526)(7.65,6.29)(7.42,5.9)(7.26,5.75)(6.98,5.6)(6.74,5.56)(6.5,5.556)(5.95,5.6)(5.07,5.736)(4.39,5.75)(3.8,5.818)(3.32,5.893)(2.78,5.968)(2.44,6.044)(2.24,6.104)(1.9,6.158)(1.65,6.224)(1.26,6.374)(.87,6.48)(.63,6.576)(.29,6.645)(.02,6.74)};
\addplot[br] coordinates {(.02,8.866)(.63,8.896)(1.46,8.872)(2.05,8.812)(2.44,8.691)(2.93,8.496)(3.41,8.33)(3.9,8.15)(4.39,8.014)(4.98,7.82)(5.47,7.654)(5.96,7.488)(6.35,7.308)(6.59,7.172)(6.64,7.097)(6.54,7.007)(6.35,6.956)(5.96,6.932)(5.47,6.932)(5.17,6.941)(4.98,6.887)(4.68,6.75)(4.39,6.585)(4.2,6.48)(3.9,6.42)(3.41,6.39)(3.07,6.368)(2.73,6.41)(2.39,6.495)(2.19,6.531)(1.85,6.549)(1.6,6.645)(1.31,6.81)(1.17,6.856)(.92,6.9)(.63,7.11)(.41,7.313)};
\addplot[br] coordinates {(.02,8.745)(.63,8.812)(1.46,8.79)(1.95,8.736)(2.34,8.631)(2.67,8.535)};
\addplot[br] coordinates {(3.59,8.135)(3.9,8.014)(4.39,7.819)(4.64,7.683)(4.76,7.518)(4.68,7.428)(4.49,7.322)(4.15,7.217)(3.8,7.142)(3.41,7.066)(3.17,6.976)(2.97,6.931)(2.63,6.94)(2.44,6.991)(2.24,7.06)(2.09,7.036)(1.92,6.961)(1.8,6.94)(1.7,6.976)(1.41,7.277)(1.31,7.367)(1.02,7.443)(.92,7.488)(.68,7.759)(.48,7.969)(.02,8.36)};
\addplot[brt] coordinates {(.48,8.475)(.92,8.42)(1.7,8.33)(2.09,8.285)(2.44,8.12)(2.93,7.939)(3.41,7.774)(3.9,7.668)(4.39,7.578)(4.98,7.443)(5.47,7.308)(5.96,7.187)(6.44,7.067)(6.93,6.962)(7.42,6.842)(7.91,6.721)(8.4,6.57)(8.89,6.435)(9.38,6.33)(9.72,6.294)(10,6.285)};
\addplot[wh] coordinates {(.02,9.052)(.48,9.058)(1.46,9.022)(2.05,8.968)(2.44,8.872)(2.93,8.706)(3.41,8.541)(3.9,8.39)(4.39,8.27)(4.98,8.12)(5.47,7.955)(5.96,7.804)(6.44,7.639)(6.93,7.488)(7.42,7.308)(7.71,7.157)(7.91,6.977)(7.96,6.796)(7.86,6.586)(7.73,6.44)(7.53,6.29)(7.37,6.158)(7.1,6.067)(6.9,6.02)(6.5,6.013)(5.95,6.04)(5.47,6.08)(4.99,6.128)(4.64,6.059)(4.2,6.044)(3.76,6.074)(3.17,6.149)(2.63,6.239)(2.34,6.33)(2.05,6.39)(1.75,6.42)(1.51,6.525)(1.26,6.64)(1.04,6.67)(.82,6.736)(.48,6.916)(.24,7.05)(.02,7.2)};
\addplot[wh] coordinates {(.02,8.878)(.63,8.917)(1.46,8.896)(2.05,8.827)(2.44,8.721)(2.93,8.541)(3.41,8.375)(3.9,8.21)(4.39,8.074)(4.98,7.909)(5.47,7.744)(5.96,7.594)(6.44,7.398)(6.83,7.218)(7.06,7.067)(7.08,6.962)(6.93,6.917)(6.74,6.872)(6.44,6.866)(5.96,6.917)(5.47,6.977)(5.17,7.016)(4.98,7.016)(4.64,6.93)(4.2,6.886)(3.66,6.88)(3.17,6.9)(2.88,6.931)(2.58,7.006)(2.29,7.097)(2.14,7.112)(1.8,7.097)(1.65,7.157)(1.41,7.307)(1.26,7.397)(.97,7.442)(.78,7.533)(.58,7.608)(.29,7.85)(.02,8.075)};
\addplot[wh] coordinates {(.02,8.781)(.63,8.833)(1.46,8.806)(1.95,8.751)(2.44,8.616)(2.93,8.496)(3.41,8.345)(3.9,8.18)(4.39,8)(4.88,7.73)(5.17,7.579)(5.3,7.488)(5.3,7.437)(5.17,7.404)(4.98,7.374)(4.39,7.292)(3.9,7.262)(3.41,7.262)(2.88,7.292)(2.48,7.397)(2.19,7.494)(1.8,7.488)(1.51,7.608)(1.31,7.744)(.92,7.804)(.63,7.909)(.29,8.09)(.02,8.285)};
\addplot[wh] coordinates {(1.19,8.45)(1.26,8.505)(1.46,8.535)(1.7,8.541)(1.9,8.496)(2.05,8.42)(2.08,8.36)(2,8.27)(1.8,8.216)(1.65,8.231)(1.46,8.3)(1.29,8.39)(1.19,8.45)};
\addplot[wh] coordinates {(.02,8.526)(.19,8.526)(.48,8.487)(.73,8.475)(.92,8.42)(1.07,8.436)(1.31,8.39)(1.7,8.345)(2.09,8.315)(2.44,8.21)(2.93,8.044)(3.41,7.879)(3.9,7.759)(4.39,7.668)(4.98,7.503)(5.47,7.368)(5.96,7.248)(6.44,7.112)(6.93,6.977)(7.42,6.857)(7.91,6.736)(8.4,6.6)(8.89,6.48)(9.38,6.39)(9.72,6.339)(10,6.33)};
\addplot[dsh] coordinates {(.1,8.83)(10,8.83)};
\addplot[dsh] coordinates {(.1,7.83)(10,7.83)};
\addplot[dsh] coordinates {(.1,6.83)(10,6.83)};
\node[clab,anchor=east] at (axis cs:.59,9.05) {0.001};
\node[clab,rotate=-33] at (axis cs:3.12,8.375) {0.01};
\node[clab,rotate=-62] at (axis cs:.23,7.7) {0.005};
\node[clab,anchor=north] at (axis cs:7.7,5.41) {0.001};
\node[anchor=west,inner sep=0pt,font=\bfseries\fs{13.8}] at (axis cs:.02,10.07) {'low metallicity extreme'};
\coordinate (zsun) at (axis cs:9.42,9.016);
\coordinate (ztenth) at (axis cs:8.61,7.915);
\coordinate (zhund) at (axis cs:8.42,6.92);
\end{axis}
\node[anchor=west,inner sep=0pt,font=\bfseries\fs{14.5}] at (zsun) {Z\raisebox{-3pt}{\fontsize{10}{10}\selectfont$\odot$}};
\node[anchor=west,inner sep=0pt,text=zgray,font=\bfseries\fs{14.5}] at (ztenth) {0.1 Z\raisebox{-3pt}{\fontsize{10}{10}\selectfont$\odot$}};
\node[anchor=west,inner sep=0pt,text=zgray,font=\bfseries\fs{14.5}] at (zhund) {0.01 Z\raisebox{-3pt}{\fontsize{10}{10}\selectfont$\odot$}};
% ratio panel
\begin{axis}[scale only axis,at={(40.5pt,35.65pt)},anchor=south west,width=688.7pt,height=67.85pt,
  xmin=0,xmax=10,ymin=-0.1,ymax=2.04,
  xtick={2,4,6,8,10},xticklabels={2,4,6,8,10},
  ytick={0,0.5,1,1.5,2},yticklabels={0.0,0.5,1.0,1.5,2.0},
  tick align=inside,major tick length=3.5pt,axis line style={line width=.7pt},tick style={black,line width=.4pt},
  grid=major,grid style={dotted,black,line width=.4pt},
  tick label style={font=\fs{11.4}},label style={font=\fs{13.2}},
  xlabel={z --- redshift},x label style={at={(axis description cs:0.5,-0.355)},anchor=center,font=\fs{13.7}},
  ylabel={SFRD ratio},y label style={at={(axis description cs:-0.049,0.5)},anchor=center,font=\fs{14.3}},
  legend style={at={(0.9925,0.917)},anchor=north east,fill=white,draw=black!75,line width=.6pt,rounded corners=1.5pt,
    font=\fs{11.15},legend columns=2,/tikz/every even column/.append style={column sep=20pt},inner xsep=3pt,inner ysep=3pt},
  ]
\addplot[color=black!33,line width=3.6pt,smooth,tension=.4,legB] coordinates {(.01,1.08)(.54,.75)(.91,.62)(1.29,.49)(1.66,.447)(2.22,.426)(3.16,.452)(3.53,.46)(4.28,.447)(6,.42)(8,.41)(10,.4)};
\addlegendentry{non-univ./univ. IMF, high-Z extreme}
\addplot[color=black!60,line width=4pt,dash pattern=on 4.2pt off 4.1pt,smooth,tension=.4,legC] coordinates {(.01,1.526)(.21,1.28)(.42,1.106)(.67,.937)(.91,.79)(1.14,.67)(1.36,.594)(1.62,.54)(1.98,.505)(2.33,.5)(3.16,.5)(3.53,.505)(4.28,.49)(5.03,.46)(6,.436)(8,.41)(10,.395)};
\addlegendentry{non-univ./univ. IMF, low-Z extreme}
\end{axis}
\end{tikzpicture}
\end{document}
